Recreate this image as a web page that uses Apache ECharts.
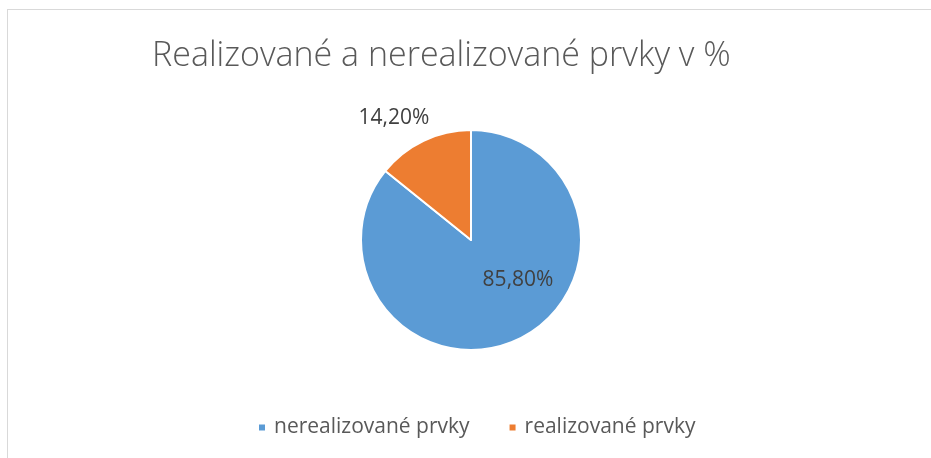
<!DOCTYPE html>
<html>
<head>
<meta charset="utf-8">
<title>Realizované a nerealizované prvky v %</title>
<script src="https://cdn.jsdelivr.net/npm/echarts@6/dist/echarts.min.js"></script>
<style>
  html, body { margin: 0; padding: 0; background: #fff; }
  .frame {
    position: absolute; left: 7px; top: 9px; right: 0; bottom: 0;
    border-top: 1px solid #d9d9d9;
    border-left: 1px solid #d9d9d9;
  }
  #chart { position: absolute; left: 0; top: 0; width: 931px; height: 458px; }
</style>
</head>
<body>
<div class="frame"></div>
<div id="chart"></div>
<script>
const categories = ['nerealizované prvky', 'realizované prvky']
const values = [85.8, 14.2]
const colors = ['#5B9BD5', '#ED7D31']

// label nudges from the slice midpoint, Excel puts them where it likes
const labelShift = [
  [22, -12],
  [-52, -70]
]

const chart = echarts.init(document.getElementById('chart'))

chart.setOption({
  animation: false,
  title: {
    text: 'Realizované a nerealizované prvky v %',
    left: 147,
    top: 34,
    textStyle: {
      fontFamily: 'Open Sans',
      fontSize: 34,
      fontWeight: 300,
      color: '#595959'
    }
  },
  legend: {
    left: 252,
    top: 412,
    icon: 'rect',
    itemWidth: 8,
    itemHeight: 8,
    itemGap: 38,
    textStyle: {
      fontFamily: 'Open Sans',
      fontSize: 21,
      color: '#595959',
      padding: [0, 0, 0, 3]
    },
    data: categories
  },
  series: [{
    type: 'pie',
    center: [471, 240],
    radius: 110,
    startAngle: 90,
    clockwise: true,
    silent: true,
    itemStyle: { borderColor: '#fff', borderWidth: 2 },
    labelLine: { show: false },
    labelLayout: p => ({ dx: labelShift[p.dataIndex][0], dy: labelShift[p.dataIndex][1] }),
    data: categories.map((name, i) => ({
      name,
      value: values[i],
      itemStyle: { color: colors[i] },
      label: {
        show: true,
        position: 'inside',
        fontFamily: 'Open Sans',
        fontSize: 21,
        color: '#404040',
        formatter: p => p.value.toFixed(2).replace('.', ',') + '%'
      }
    }))
  }]
})
</script>
</body>
</html>
